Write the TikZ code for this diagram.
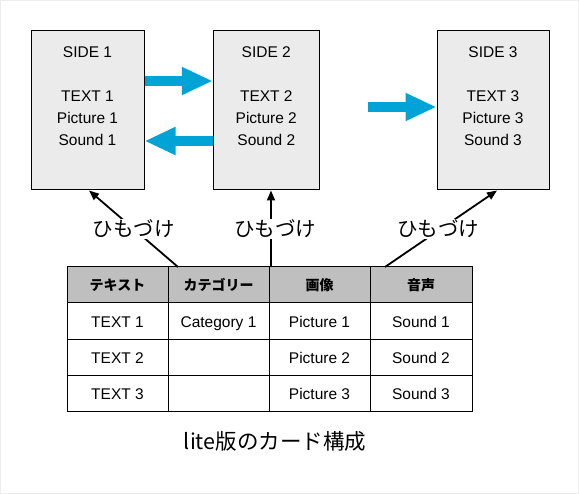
\documentclass[tikz,border=0pt]{standalone}
\usepackage{fontspec}
\setmainfont{Liberation Sans}
\newfontfamily\jp{Noto Sans CJK JP}
\usetikzlibrary{arrows.meta,calc}
\definecolor{cardfill}{HTML}{EBEBEB}
\definecolor{headfill}{HTML}{BFBFBF}
\definecolor{bluearrow}{HTML}{00A3D6}
\definecolor{framegray}{HTML}{EDEDED}
\tikzset{
  card/.style={draw=black, line width=1pt, fill=cardfill, minimum width=113pt, minimum height=159pt, inner sep=0pt},
  cardtext/.style={align=center, font=\fontsize{15.5}{22}\selectfont, inner sep=0pt},
  bigarrow/.style={bluearrow, line width=10pt, -{Triangle[length=31pt,width=26pt]}},
  linkarrow/.style={black, line width=1.8pt, -{Triangle[length=10pt,width=8pt]}},
  linklabel/.style={fill=white, font=\jp\fontsize{20.5}{24}\selectfont, inner sep=1pt},
  cell/.style={font=\fontsize{15.5}{18}\selectfont, inner sep=0pt, text height=11pt, text depth=3pt},
  headcell/.style={font=\jp\bfseries\fontsize{14}{16}\selectfont, inner sep=0pt},
  grid/.style={black, line width=1pt}
}
\begin{document}
\begin{tikzpicture}[x=1pt, y=-1pt]
\useasboundingbox (0,0) rectangle (579,494);
\draw[framegray, line width=1pt] (0.5,0.5) rectangle (578.5,493.5);

% cards
\node[card] (b1) at (87.5,110.5) {};
\node[card, minimum width=106pt] (b2) at (266.3,110.5) {};
\node[card, minimum width=112pt] (b3) at (493,110.5) {};
\node[cardtext] (t1) at ([yshift=14pt]b1.center) {SIDE 1\\[22pt]TEXT 1\\Picture 1\\Sound 1};
\node[cardtext] (t2) at ([yshift=14pt]b2.center) {SIDE 2\\[22pt]TEXT 2\\Picture 2\\Sound 2};
\node[cardtext] (t3) at ([yshift=14pt]b3.center) {SIDE 3\\[22pt]TEXT 3\\Picture 3\\Sound 3};

% blue arrows
\coordinate (a1s) at (b1.east |- 0,81);
\coordinate (a1e) at (b2.west |- 0,81);
\draw[bigarrow] (a1s) -- (a1e);
\coordinate (a2s) at (b2.west |- 0,141);
\coordinate (a2e) at (b1.east |- 0,141);
\draw[bigarrow] (a2s) -- (a2e);
\coordinate (a3s) at (368,107);
\coordinate (a3e) at (b3.west |- 0,107);
\draw[bigarrow] (a3s) -- (a3e);

% table
\fill[headfill] (67,267) rectangle (472,303);
\draw[grid] (67,267) rectangle (472,412);
\foreach \yy in {303,340,376} \draw[grid] (67,\yy) -- (472,\yy);
\foreach \xx in {168,269,370} \draw[grid] (\xx,267) -- (\xx,412);

\node[headcell] (h1) at (117.5,285) {テキスト};
\node[headcell] (h2) at (218.5,285) {カテゴリー};
\node[headcell] (h3) at (319.5,285) {画像};
\node[headcell] (h4) at (421,285) {音声};

\node[cell] (c11) at (117.5,323.5) {TEXT 1};
\node[cell] (c12) at (218.5,323.5) {Category 1};
\node[cell] (c13) at (319.5,323.5) {Picture 1};
\node[cell] (c14) at (421,323.5) {Sound 1};
\node[cell] (c21) at (117.5,360) {TEXT 2};
\node[cell] (c23) at (319.5,360) {Picture 2};
\node[cell] (c24) at (421,360) {Sound 2};
\node[cell] (c31) at (117.5,396) {TEXT 3};
\node[cell] (c33) at (319.5,396) {Picture 3};
\node[cell] (c34) at (421,396) {Sound 3};

% link arrows
\coordinate (l1s) at (178,267);
\coordinate (l1e) at (89,0 |- b1.south);
\coordinate (l2s) at (271,267);
\coordinate (l2e) at (271,0 |- b2.south);
\coordinate (l3s) at (385,267);
\coordinate (l3e) at (497,0 |- b3.south);
\draw[linkarrow] (l1s) -- (l1e);
\draw[linkarrow] (l2s) -- (l2e);
\draw[linkarrow] (l3s) -- (l3e);
\node[linklabel] (k1) at ($(l1s)!0.5!(l1e)$) {ひもづけ};
\node[linklabel] (k2) at ([xshift=4pt]$(l2s)!0.5!(l2e)$) {ひもづけ};
\node[linklabel] (k3) at ([xshift=-3pt]$(l3s)!0.5!(l3e)$) {ひもづけ};

% caption
\node[font=\jp\fontsize{21.5}{25}\selectfont, inner sep=0pt] (cap) at (275,441) {lite版のカード構成};
\end{tikzpicture}
\end{document}
